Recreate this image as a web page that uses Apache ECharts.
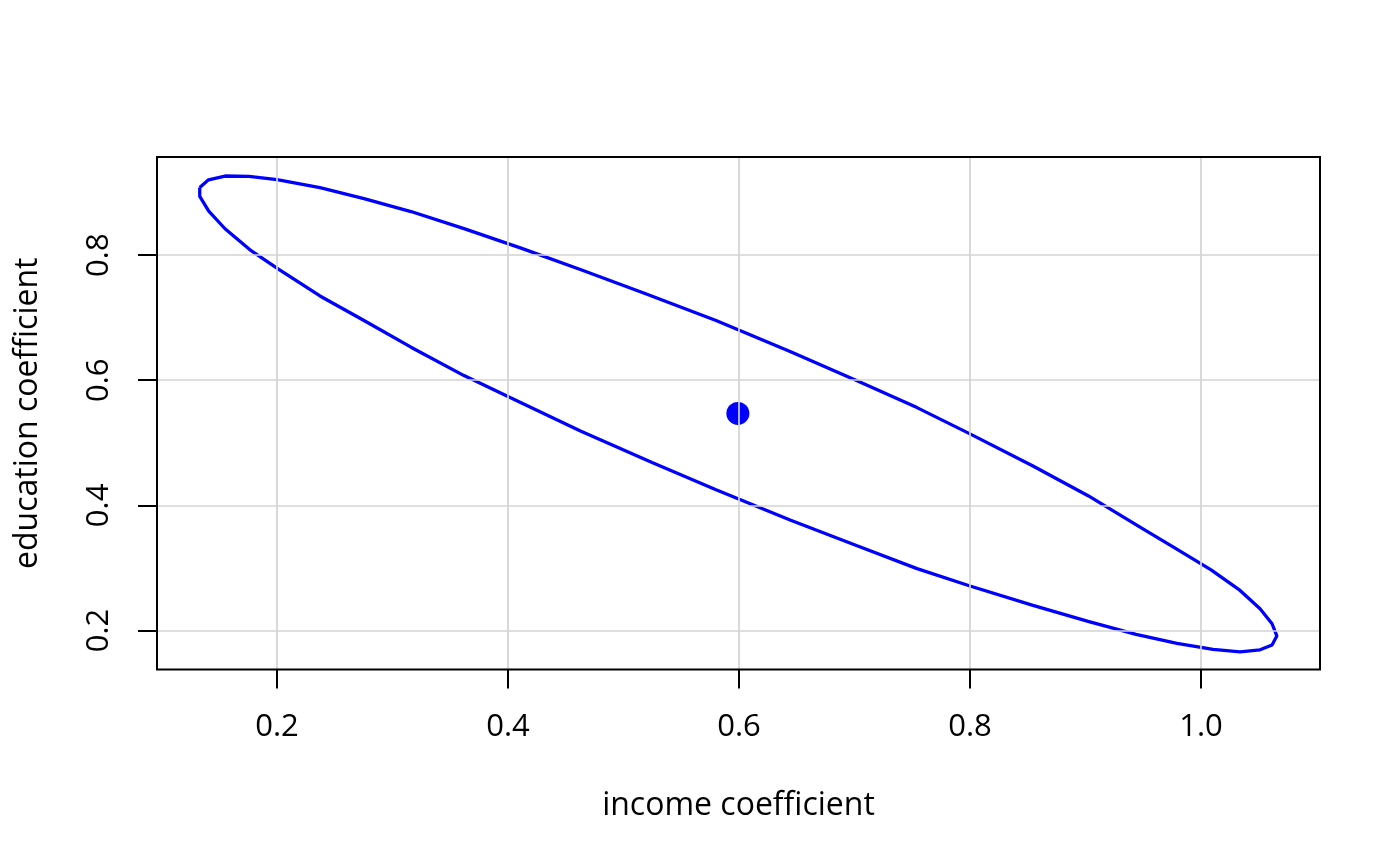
<!DOCTYPE html>
<html>
<head>
<meta charset="utf-8">
<script src="https://cdn.jsdelivr.net/npm/echarts@6/dist/echarts.min.js"></script>
<style>
html,body{margin:0;padding:0;background:#fff;}
#chart{width:1400px;height:866px;}
</style>
</head>
<body>
<div id="chart"></div>
<script>
// Ellipse vertices (income, education)
const ellipseX = [0.1331,0.1407,0.1550,0.1758,0.2000,0.2372,0.2753,0.3160,0.3619,0.4113,
  0.4632,0.5186,0.5801,0.6442,0.7022,0.7541,0.7991,0.8545,0.9022,0.9472,
  0.9790,1.0087,1.0338,1.0511,1.0615,1.0656,1.0615,1.0511,1.0338,1.0104,
  0.9792,0.9437,0.9022,0.8545,0.8000,0.7541,0.7022,0.6442,0.5801,0.5247,
  0.4632,0.4113,0.3619,0.3160,0.2753,0.2372,0.2009,0.1766,0.1550,0.1409,
  0.1331,0.1331];
const ellipseY = [0.9080,0.9203,0.9264,0.9259,0.9205,0.9080,0.8904,0.8696,0.8424,0.8112,
  0.7766,0.7386,0.6955,0.6459,0.5992,0.5562,0.5150,0.4630,0.4154,0.3653,
  0.3299,0.2968,0.2640,0.2347,0.2107,0.1912,0.1768,0.1691,0.1659,0.1696,
  0.1792,0.1936,0.2144,0.2400,0.2710,0.2989,0.3354,0.3766,0.4250,0.4685,
  0.5184,0.5640,0.6074,0.6528,0.6955,0.7347,0.7781,0.8085,0.8421,0.8704,
  0.8939,0.9080];
const centerPoint = [0.599, 0.547];
const xTicks = [0.2, 0.4, 0.6, 0.8, 1.0];
const yTicks = [0.2, 0.4, 0.6, 0.8];
const xTickLabels = ['0.2','0.4','0.6','0.8','1.0'];
const yTickLabels = ['0.2','0.4','0.6','0.8'];
const xRange = [0.0961, 1.103];
const yRange = [0.1376, 0.9568];
const xTitle = 'income coefficient';
const yTitle = 'education coefficient';

const ellipseData = ellipseX.map((x, i) => [x, ellipseY[i]]);
const fontFamily = '"Open Sans", "Noto Sans", sans-serif';

const chart = echarts.init(document.getElementById('chart'), null, {renderer: 'canvas'});
chart.setOption({
  animation: false,
  backgroundColor: '#ffffff',
  grid: {left: 157, top: 157, width: 1163, height: 512.5, show: true,
         borderColor: '#000', borderWidth: 2, backgroundColor: 'transparent', z: 10},
  xAxis: {
    type: 'value', min: xRange[0], max: xRange[1],
    name: xTitle, nameLocation: 'middle', nameGap: 120,
    nameTextStyle: {fontFamily, fontSize: 32, color: '#000'},
    axisLine: {show: false},
    axisTick: {show: true, inside: false, length: 19, customValues: xTicks,
               lineStyle: {color: '#000', width: 2}},
    axisLabel: {show: true, margin: 42, customValues: xTicks,
                formatter: v => xTickLabels[xTicks.findIndex(t => Math.abs(t - v) < 1e-9)] ?? '',
                fontFamily, fontSize: 31, color: '#000'},
    splitLine: {show: false}
  },
  yAxis: {
    type: 'value', min: yRange[0], max: yRange[1],
    name: yTitle, nameLocation: 'middle', nameGap: 113.5,
    nameTextStyle: {fontFamily, fontSize: 32, color: '#000'},
    axisLine: {show: false},
    axisTick: {show: true, inside: false, length: 19, customValues: yTicks,
               lineStyle: {color: '#000', width: 2}},
    axisLabel: {show: true, margin: 42, rotate: 90, customValues: yTicks,
                formatter: v => yTickLabels[yTicks.findIndex(t => Math.abs(t - v) < 1e-9)] ?? '',
                fontFamily, fontSize: 31, color: '#000'},
    splitLine: {show: false}
  },
  series: [
    {
      type: 'line', data: [], z: 1, silent: true,
      markLine: {
        silent: true, symbol: ['none', 'none'], label: {show: false},
        lineStyle: {color: '#d3d3d3', width: 1.7, type: 'solid'},
        emphasis: {disabled: true},
        data: xTicks.map(v => ({xAxis: v})).concat(yTicks.map(v => ({yAxis: v})))
      }
    },
    {
      type: 'line', data: ellipseData, z: 3, showSymbol: false, symbol: 'none',
      lineStyle: {color: '#0000ff', width: 3.3}, silent: true
    },
    {
      type: 'scatter', data: [centerPoint], z: 4, symbolSize: 23,
      itemStyle: {color: '#0000ff', opacity: 1}, silent: true
    }
  ]
});
</script>
</body>
</html>
